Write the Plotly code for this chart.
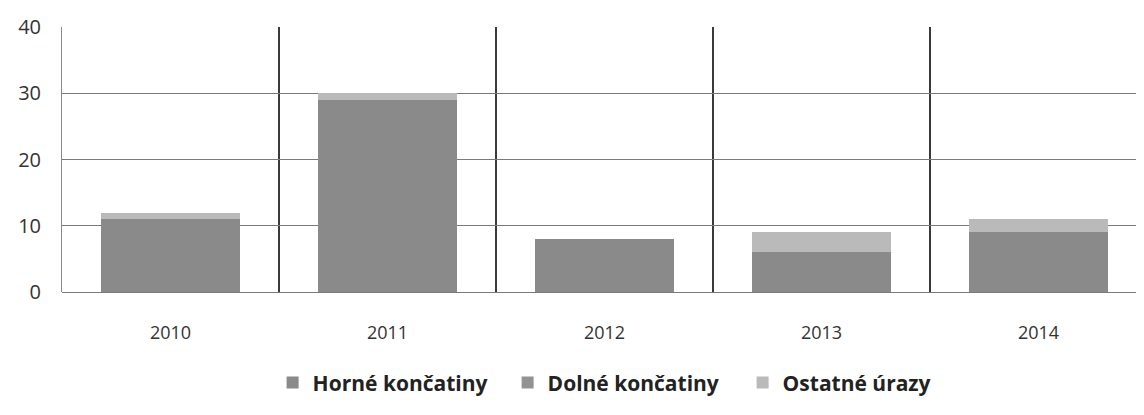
import plotly.graph_objects as go

years = ["2010", "2011", "2012", "2013", "2014"]
horne = [11, 29, 8, 6, 9]
dolne = [0, 0, 0, 0, 0]
ostatne = [1, 1, 0, 3, 2]
y_ticks = [0, 10, 20, 30, 40]

fig = go.Figure()
fig.add_trace(go.Bar(name="Horné končatiny", x=years, y=horne, marker_color="#8a8a8a",
                     marker_line_width=0))
fig.add_trace(go.Bar(name="Dolné končatiny", x=years, y=dolne, marker_color="#929292",
                     marker_line_width=0))
fig.add_trace(go.Bar(name="Ostatné úrazy", x=years, y=ostatne, marker_color="#bababa",
                     marker_line_width=0))

fig.update_layout(
    barmode="stack",
    bargap=0.36,
    width=1144, height=415,
    margin=dict(l=54, r=5, t=19, b=131),
    plot_bgcolor="white", paper_bgcolor="white",
    font=dict(family="Open Sans", color="#333333"),
    showlegend=True,
    legend=dict(orientation="h", x=0.519, xanchor="center", y=-0.343, yanchor="middle",
                font=dict(size=21, family="Open Sans", weight="bold", color="#222222"),
                itemwidth=30, entrywidth=190, tracegroupgap=0, traceorder="normal"),
    xaxis=dict(type="category", tickson="boundaries", showgrid=True, gridcolor="#3a3a3a",
               gridwidth=1.5, ticks="", showline=False, range=[-0.5, 4.5],
               tickfont=dict(size=18, color="#333333"), ticklabelstandoff=28),
    yaxis=dict(range=[0, 40], tickvals=y_ticks, showgrid=True, gridcolor="#7a7a7a",
               gridwidth=1, zeroline=True, zerolinecolor="#7a7a7a", zerolinewidth=1,
               showline=True, linecolor="#8a8a8a", linewidth=1,
               tickfont=dict(size=20, color="#333333"), ticklabelstandoff=16),
)

fig.write_html("out.html")
